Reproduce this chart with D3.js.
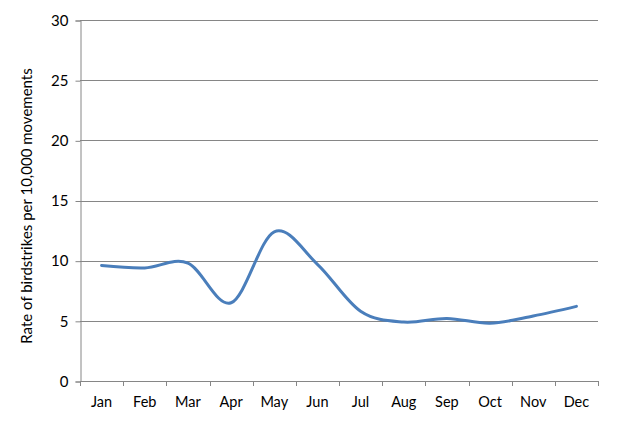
<!DOCTYPE html>
<html><head><meta charset="utf-8">
<script src="https://d3js.org/d3.v7.min.js"></script>
<style>
body{margin:0;background:#fff;}
text{font-family:Lato,"Open Sans",sans-serif;fill:#000;}
</style>
</head><body>
<svg width="619" height="431"></svg>
<script>
var months = ["Jan","Feb","Mar","Apr","May","Jun","Jul","Aug","Sep","Oct","Nov","Dec"];
var rates = [9.6, 9.4, 9.8, 6.5, 12.4, 9.7, 5.8, 4.9, 5.2, 4.8, 5.4, 6.2];
var yTicks = [0, 5, 10, 15, 20, 25, 30];

var svg = d3.select("svg");
var plotLeft = 80, plotRight = 598, plotTop = 20, plotBottom = 381;

var x = d3.scaleBand().domain(months).range([plotLeft, plotRight]);
var y = d3.scaleLinear().domain([0, 30]).range([plotBottom, plotTop]);

// gridlines
svg.selectAll(".grid").data(yTicks.slice(1)).enter().append("line")
    .attr("x1", plotLeft).attr("x2", plotRight)
    .attr("y1", function(d){ return Math.round(y(d)) + 0.5; })
    .attr("y2", function(d){ return Math.round(y(d)) + 0.5; })
    .style("stroke", "#868686").style("stroke-width", 1);

// y axis
var yAxis = svg.append("g").attr("transform", "translate(" + (plotLeft + 0.5) + ",0.5)")
    .call(d3.axisLeft(y).tickValues(yTicks).tickSize(5).tickPadding(7));
yAxis.select(".domain").attr("stroke", "#868686");
yAxis.selectAll(".tick line").attr("stroke", "#868686");
yAxis.selectAll("text").style("font-size", "15px");

// x axis
var xAxis = svg.append("g").attr("transform", "translate(0," + (plotBottom + 0.5) + ")")
    .call(d3.axisBottom(x).tickSize(0).tickPadding(15));
xAxis.select(".domain").attr("stroke", "#868686").attr("d", "M" + plotLeft + ",0H" + plotRight);
xAxis.selectAll("text").style("font-size", "14.5px");
// boundary ticks between categories
svg.selectAll(".xt").data(d3.range(months.length + 1)).enter().append("line")
    .attr("x1", function(i){ return Math.round(plotLeft + i * x.step()) + 0.5; })
    .attr("x2", function(i){ return Math.round(plotLeft + i * x.step()) + 0.5; })
    .attr("y1", plotBottom).attr("y2", plotBottom + 5)
    .style("stroke", "#868686");

// y title
svg.append("text")
    .attr("transform", "translate(32,206) rotate(-90)")
    .attr("text-anchor", "middle")
    .style("font-size", "15px")
    .text("Rate of birdstrikes per 10,000 movements");

// line
var line = d3.line()
    .x(function(d, i){ return x(months[i]) + x.bandwidth() / 2; })
    .y(function(d){ return y(d); })
    .curve(d3.curveCardinal.tension(0));

svg.append("path").datum(rates)
    .attr("d", line)
    .style("fill", "none")
    .style("stroke", "#4a7ebb")
    .style("stroke-width", 3)
    .style("stroke-linecap", "round");
</script>
</body></html>
